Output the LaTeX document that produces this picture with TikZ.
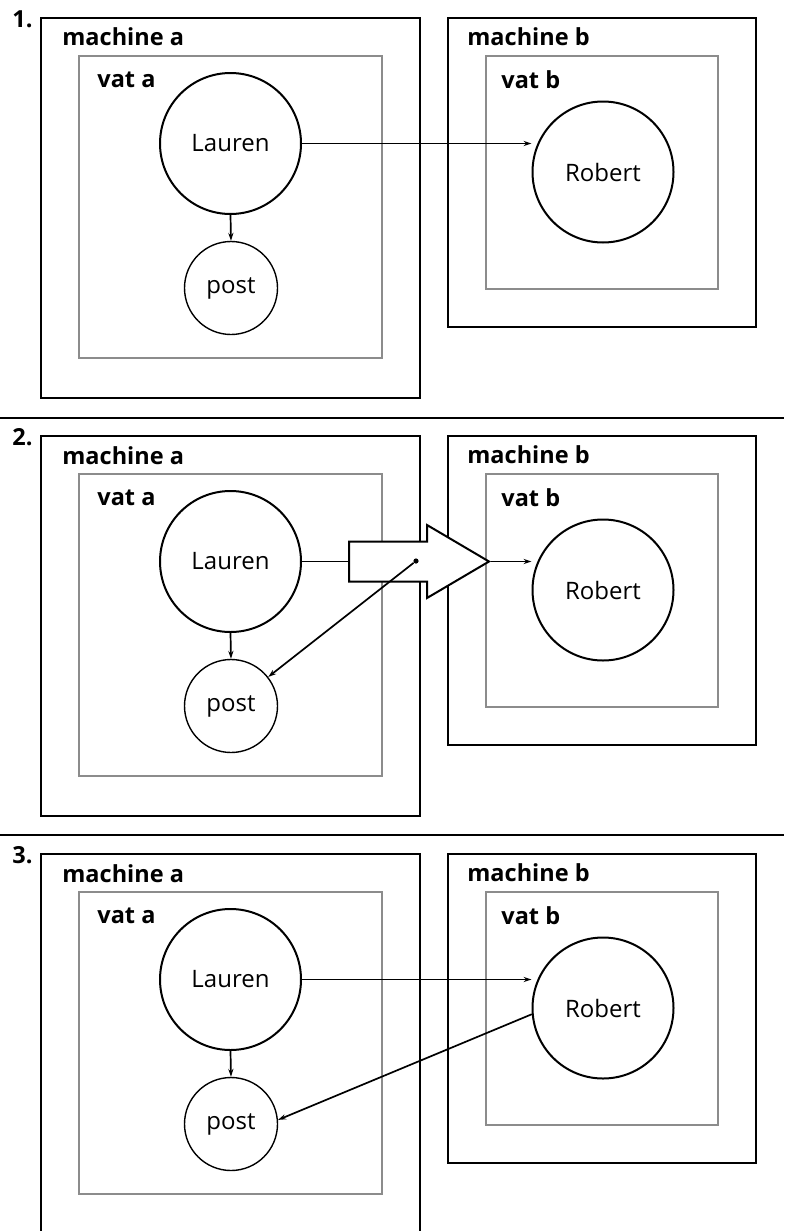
\documentclass[tikz,border=0pt]{standalone}
\usepackage{fontspec}
\setmainfont{Open Sans}
\usepackage{xcolor}
\definecolor{vatgray}{HTML}{8C8C8C}
\usetikzlibrary{arrows.meta,shapes.arrows}

\begin{document}
\begin{tikzpicture}[
    x=0.5pt, y=-0.5pt,
    font=\fontsize{12}{14}\selectfont,
    machine/.style={draw=black, line width=1.15pt, inner sep=0pt},
    vat/.style={draw=vatgray, line width=1pt, inner sep=0pt},
    agent/.style={draw=black, circle, line width=1pt, minimum size=70.5pt, inner sep=0pt},
    mailbox/.style={draw=black, circle, line width=0.7pt, minimum size=46.5pt, inner sep=0pt},
    boxlabel/.style={anchor=base west, inner sep=0pt, font=\fontsize{11.75}{14}\selectfont\bfseries},
    conn/.style={draw=black, line width=0.85pt, -{Stealth[length=4pt, width=2.6pt]}},
    bigarrow/.style={draw=black, fill=white, single arrow, line width=1pt,
                     minimum height=70pt, inner xsep=0pt, inner ysep=9.5pt,
                     single arrow head extend=8.25pt, single arrow tip angle=61},
]
\useasboundingbox (0,0) rectangle (784,1231);

% Three panels, same machines and vats
\foreach \n/\off in {1/0, 2/418, 3/836} {
  \begin{scope}[shift={(0,\off)}]
    \node[boxlabel] (num\n) at (12,27) {\n.};

    % Left: machine a / vat a
    \node[machine, minimum width=189.5pt, minimum height=190pt] (ma\n) at (230.5,208) {};
    \node[vat, minimum width=151.5pt, minimum height=151pt] (va\n) at (230.5,207) {};
    \node[boxlabel] (mal\n) at (62,46) {machine a};
    \node[boxlabel] (val\n) at (97,87) {vat a};
    \node[agent] (lau\n) at (230.5,143.5) {Lauren};
    \node[mailbox] (post\n) at (231,288) {post};

    % Right: machine b / vat b
    \node[machine, minimum width=154pt, minimum height=154.5pt] (mb\n) at (602,172.5) {};
    \node[vat, minimum width=116pt, minimum height=116.5pt] (vb\n) at (602,172.5) {};
    \node[boxlabel] (mbl\n) at (467,45) {machine b};
    \node[boxlabel] (vbl\n) at (501,88) {vat b};
    \node[agent] (rob\n) at (603,172) {Robert};

    \draw[conn] (lau\n.south) -- (post\n.north);
  \end{scope}
}

% Panel rules
\draw[line width=1pt] (0,418) -- (784,418);
\draw[line width=1pt] (0,835) -- (784,835);

% 1. send
\draw[conn] (lau1.east) -- (lau1.east -| rob1.west);

% 2. in flight
\node[bigarrow, anchor=tail] (send) at (348,561.5) {};
\draw[line width=0.85pt] (lau2.east) -- (send.tail);
\draw[conn] (send.tip) -- (send.tip -| rob2.west);
\node[circle, fill=black, minimum size=2.6pt, inner sep=0pt] (pin) at (416,561) {};
\draw[conn] (pin) -- (post2.38);

% 3. reply
\draw[conn] (lau3.east) -- (lau3.east -| rob3.west);
\draw[conn] (rob3.185) -- (post3.5);

\end{tikzpicture}
\end{document}
